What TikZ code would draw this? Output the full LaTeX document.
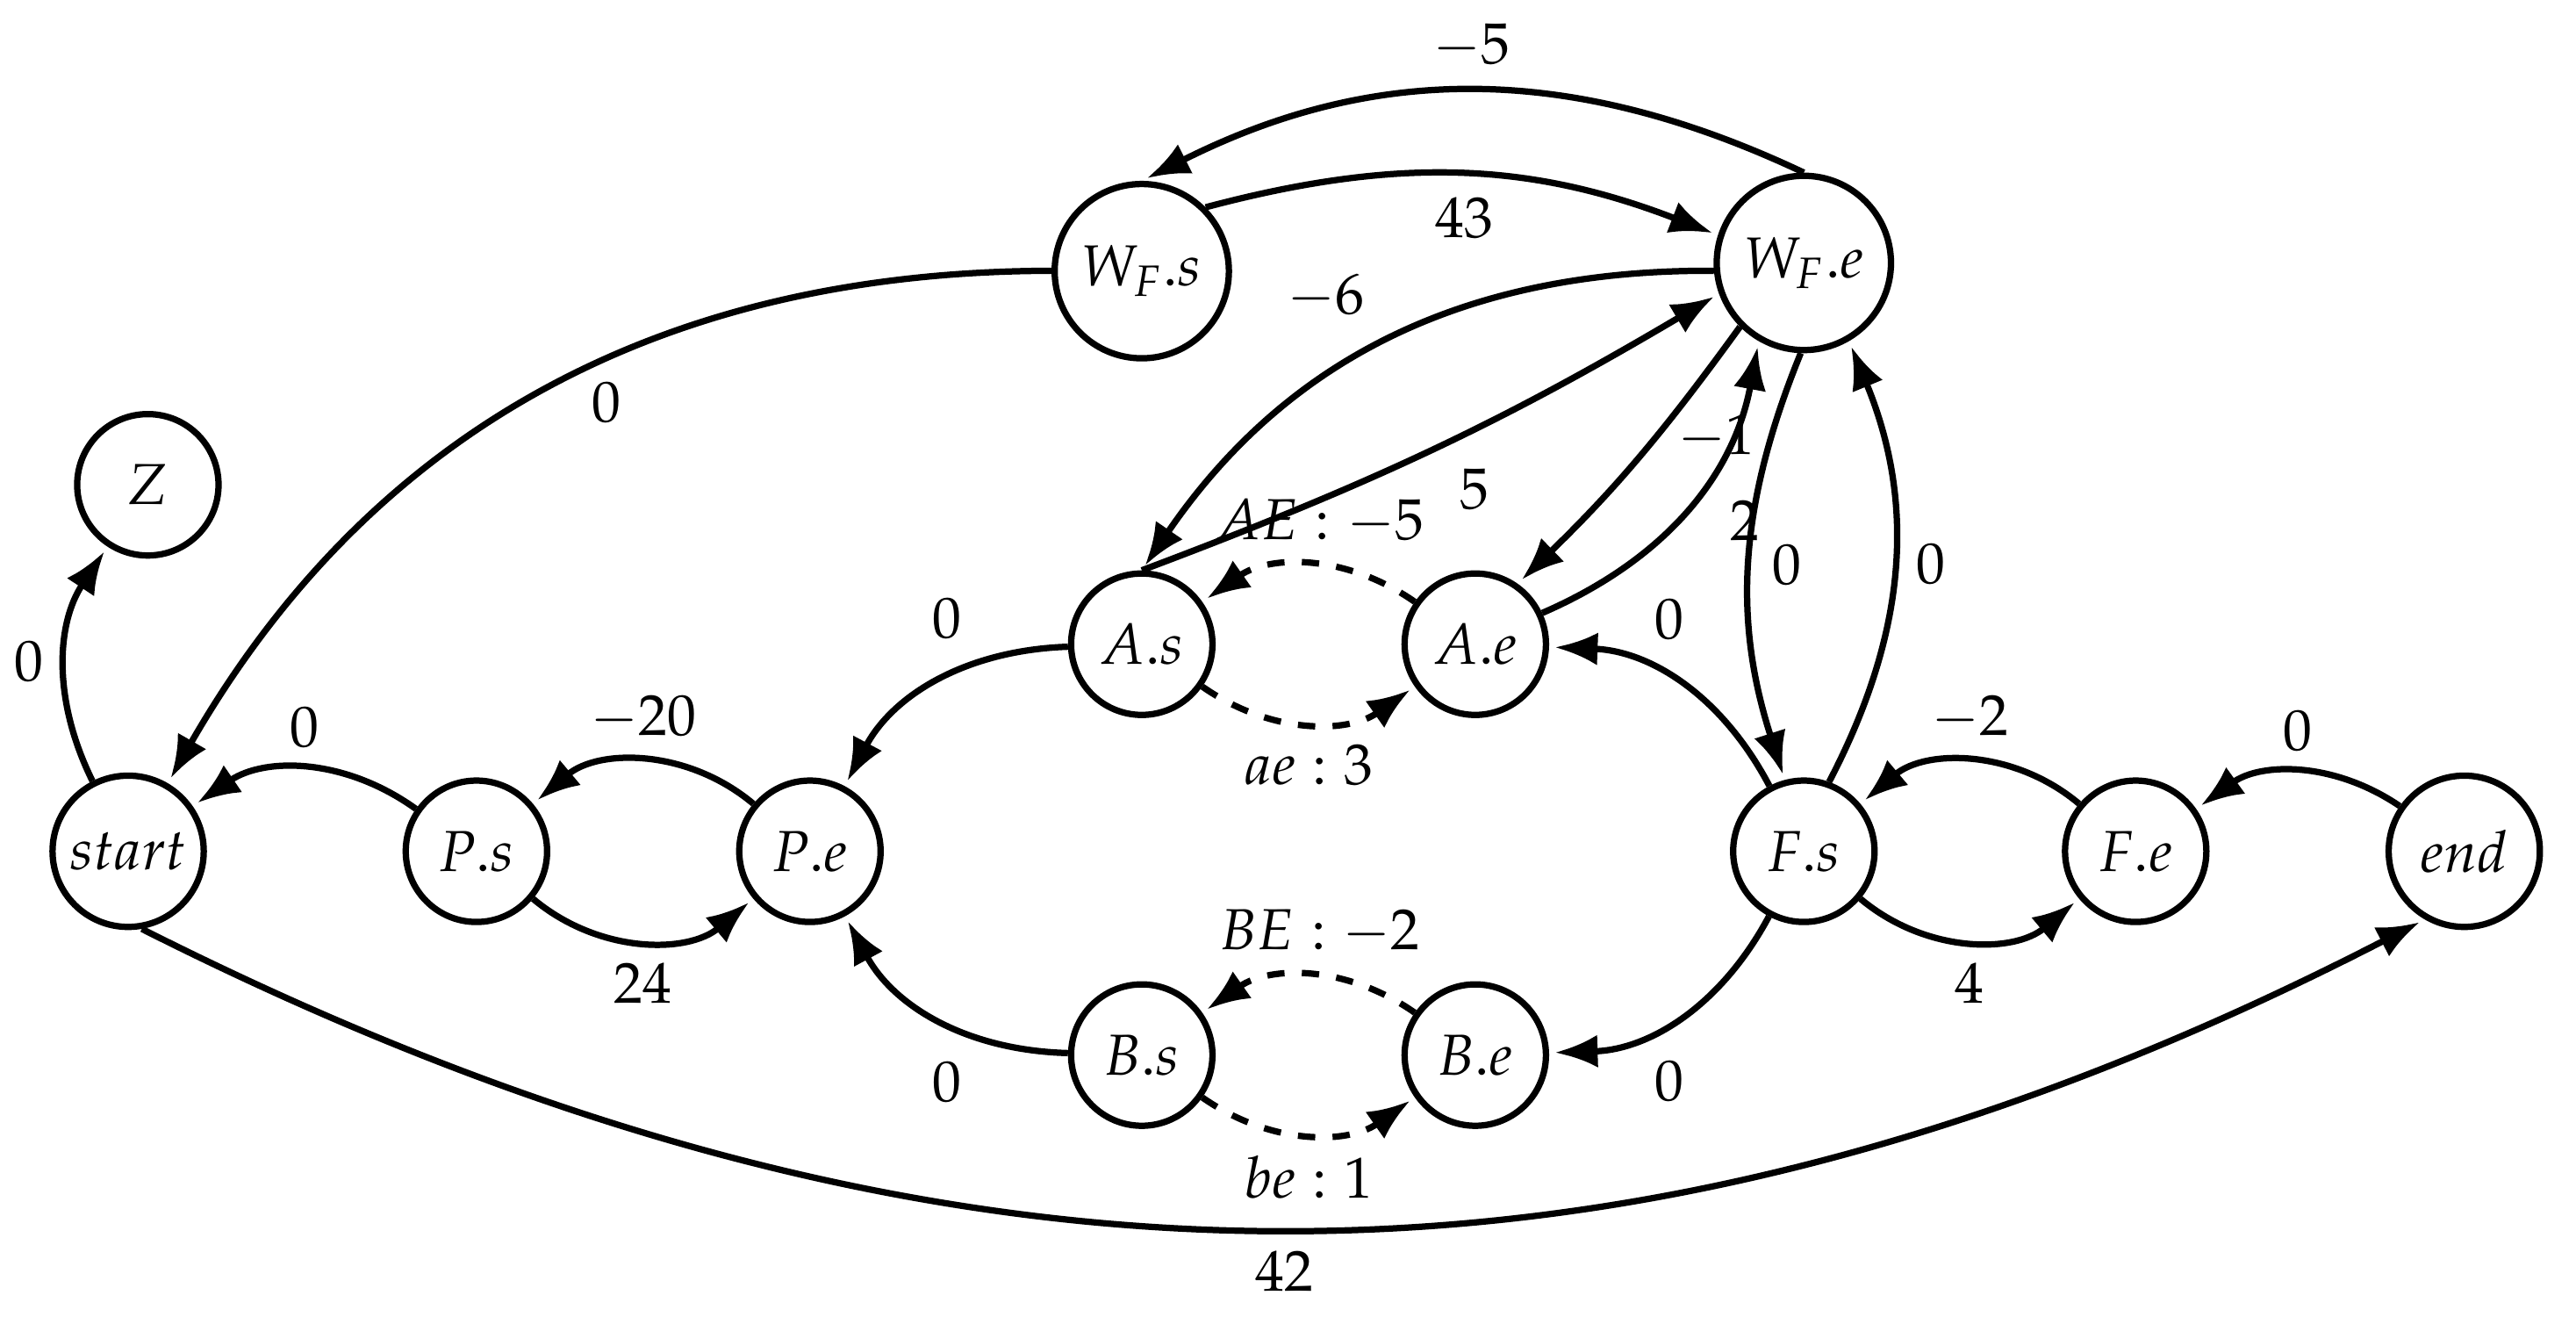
\documentclass[tikz,border=0pt]{standalone}
\usepackage{mathpazo}
\usetikzlibrary{arrows.meta}
\tikzset{
  state/.style={circle, draw, line width=1.1pt, minimum size=0.86cm, inner sep=0pt, font=\normalsize},
  big/.style={state, minimum size=1.06cm},
  arc/.style={-{Latex[length=2.6mm,width=2mm]}, line width=1.1pt, shorten >=1pt},
  lab/.style={font=\normalsize}
}
\begin{document}
\begin{tikzpicture}[x=0.01cm, y=-0.01cm]
\useasboundingbox (0,0) rectangle (1568,801);

% Etats
\node[state] (Z) at (90,295) {$Z$};
\node[state, minimum size=0.92cm] (start) at (78,518) {$start$};
\node[state] (Ps) at (290,518) {$P.s$};
\node[state] (Pe) at (493,518) {$P.e$};
\node[state] (As) at (695,392) {$A.s$};
\node[state] (Ae) at (898,392) {$A.e$};
\node[state] (Bs) at (695,642) {$B.s$};
\node[state] (Be) at (898,642) {$B.e$};
\node[big] (Ws) at (695,165) {$W_F.s$};
\node[big] (We) at (1098,160) {$W_F.e$};
\node[state] (Fs) at (1098,518) {$F.s$};
\node[state] (Fe) at (1300,518) {$F.e$};
\node[state, minimum size=0.92cm] (end) at (1500,518) {$end$};

% Arcs
\draw[arc] (start) to[bend left=30] node[lab, left, pos=0.5] {$0$} (Z);
\draw[arc] (Ps) to[bend right=35] node[lab, above] {$0$} (start);
\draw[arc] (Pe) to[bend right=40] node[lab, above] {$-20$} (Ps);
\draw[arc] (Ps) to[bend right=40] node[lab, below] {$24$} (Pe);
\draw[arc] (As) to[bend right=30] node[lab, above left, pos=0.3] {$0$} (Pe);
\draw[arc] (Bs) to[bend left=30] node[lab, below left, pos=0.3] {$0$} (Pe);
\draw[arc, dashed] (Ae) to[bend right=35] node[lab, above, pos=0.45] {$AE:-5$} (As);
\draw[arc, dashed] (As) to[bend right=35] node[lab, below] {$ae:3$} (Ae);
\draw[arc, dashed] (Be) to[bend right=35] node[lab, above, pos=0.45] {$BE:-2$} (Bs);
\draw[arc, dashed] (Bs) to[bend right=35] node[lab, below] {$be:1$} (Be);
\draw[arc] (Fs) to[bend right=30] node[lab, above right, pos=0.7] {$0$} (Ae);
\draw[arc] (Fs) to[bend left=30] node[lab, below right, pos=0.7] {$0$} (Be);
\draw[arc] (Fe) to[bend right=40] node[lab, above] {$-2$} (Fs);
\draw[arc] (Fs) to[bend right=40] node[lab, below] {$4$} (Fe);
\draw[arc] (end) to[bend right=35] node[lab, above] {$0$} (Fe);
\draw[arc] (start.-80) to[bend right=27] node[lab, below, pos=0.5] {$42$} (end.-120);
\draw[arc] (Ws) to[bend right=30] node[lab, below, pos=0.42] {$0$} (start);
\draw[arc] (We.north) to[bend right=26] node[lab, above] {$-5$} (Ws.north);
\draw[arc] (Ws.45) to[bend left=18] node[lab, below] {$43$} (We.162);
\draw[arc] (We.185) to[bend right=28] node[lab, above left, pos=0.5] {$-6$} (As.north);
\draw[arc] (As.north) to[bend right=5] node[lab, below right, pos=0.5] {$5$} (We.200);
\draw[arc] (We.225) to[bend left=5] node[lab, right, pos=0.4] {$-1$} (Ae.55);
\draw[arc] (Ae.25) to[bend right=28] node[lab, below right, pos=0.6] {$2$} (We.240);
\draw[arc] (We.-92) to[bend right=20] node[lab, right, pos=0.5] {$0$} (Fs.105);
\draw[arc] (Fs.70) to[bend right=25] node[lab, right, pos=0.5] {$0$} (We.-60);

\end{tikzpicture}
\end{document}
